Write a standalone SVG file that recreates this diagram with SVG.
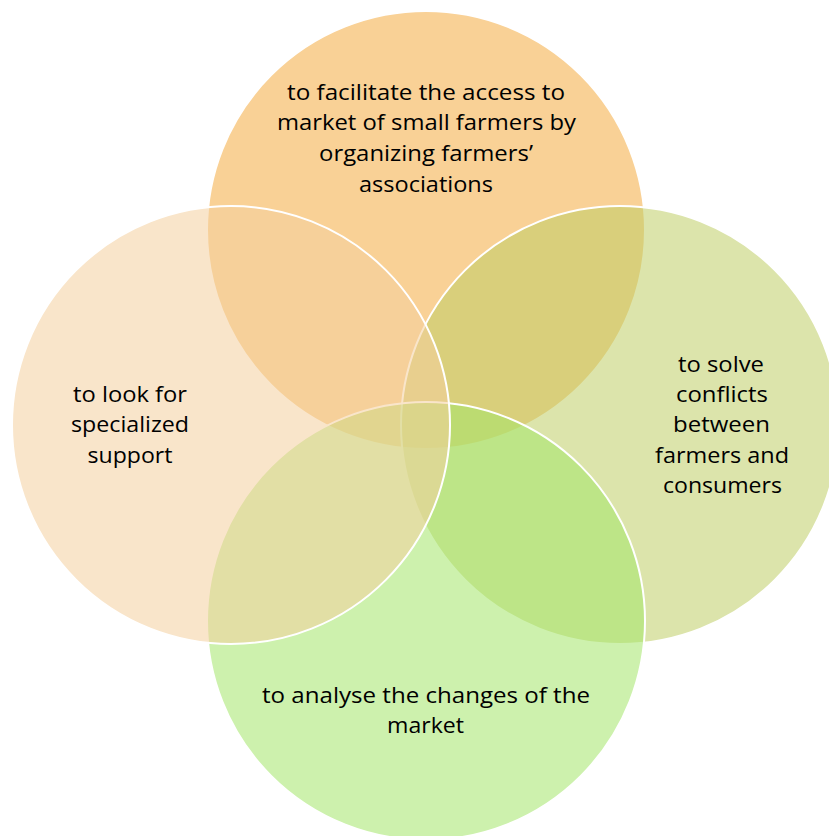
<svg xmlns="http://www.w3.org/2000/svg" width="829" height="836" viewBox="0 0 829 836">
<style>
.c{fill-opacity:0.55;stroke:#ffffff;stroke-width:2}
text{font-family:"Open Sans","Noto Sans","Liberation Sans",sans-serif;font-size:21px;fill:#000000;text-anchor:middle}
</style>
<rect width="829" height="836" fill="#ffffff"/>
<g id="node-top">
<circle class="c" cx="426" cy="230" r="219" fill="#F4AB40"/>
</g>
<g id="node-right">
<circle class="c" cx="620" cy="425" r="219" fill="#BFCE66"/>
</g>
<g id="node-bottom">
<circle class="c" cx="426" cy="621" r="219" fill="#A4E66A"/>
</g>
<g id="node-left">
<circle class="c" cx="231" cy="425" r="219" fill="#F4D09F"/>
</g>
<g id="labels-top">
<text x="426" y="100" textLength="278" lengthAdjust="spacingAndGlyphs">to facilitate the access to</text>
<text x="426.5" y="130" textLength="299" lengthAdjust="spacingAndGlyphs">market of small farmers by</text>
<text x="426" y="161" textLength="214" lengthAdjust="spacingAndGlyphs">organizing farmers’</text>
<text x="426" y="192" textLength="134" lengthAdjust="spacingAndGlyphs">associations</text>
</g>
<g id="labels-left">
<text x="130" y="402" textLength="114" lengthAdjust="spacingAndGlyphs">to look for</text>
<text x="130" y="432" textLength="118" lengthAdjust="spacingAndGlyphs">specialized</text>
<text x="130" y="463" textLength="85" lengthAdjust="spacingAndGlyphs">support</text>
</g>
<g id="labels-right">
<text x="721" y="372" textLength="86" lengthAdjust="spacingAndGlyphs">to solve</text>
<text x="722" y="402" textLength="92" lengthAdjust="spacingAndGlyphs">conflicts</text>
<text x="721.5" y="432" textLength="97" lengthAdjust="spacingAndGlyphs">between</text>
<text x="722" y="463" textLength="134" lengthAdjust="spacingAndGlyphs">farmers and</text>
<text x="722.5" y="493" textLength="119" lengthAdjust="spacingAndGlyphs">consumers</text>
</g>
<g id="labels-bottom">
<text x="426" y="703" textLength="328" lengthAdjust="spacingAndGlyphs">to analyse the changes of the</text>
<text x="425.5" y="733" textLength="77" lengthAdjust="spacingAndGlyphs">market</text>
</g>
</svg>
